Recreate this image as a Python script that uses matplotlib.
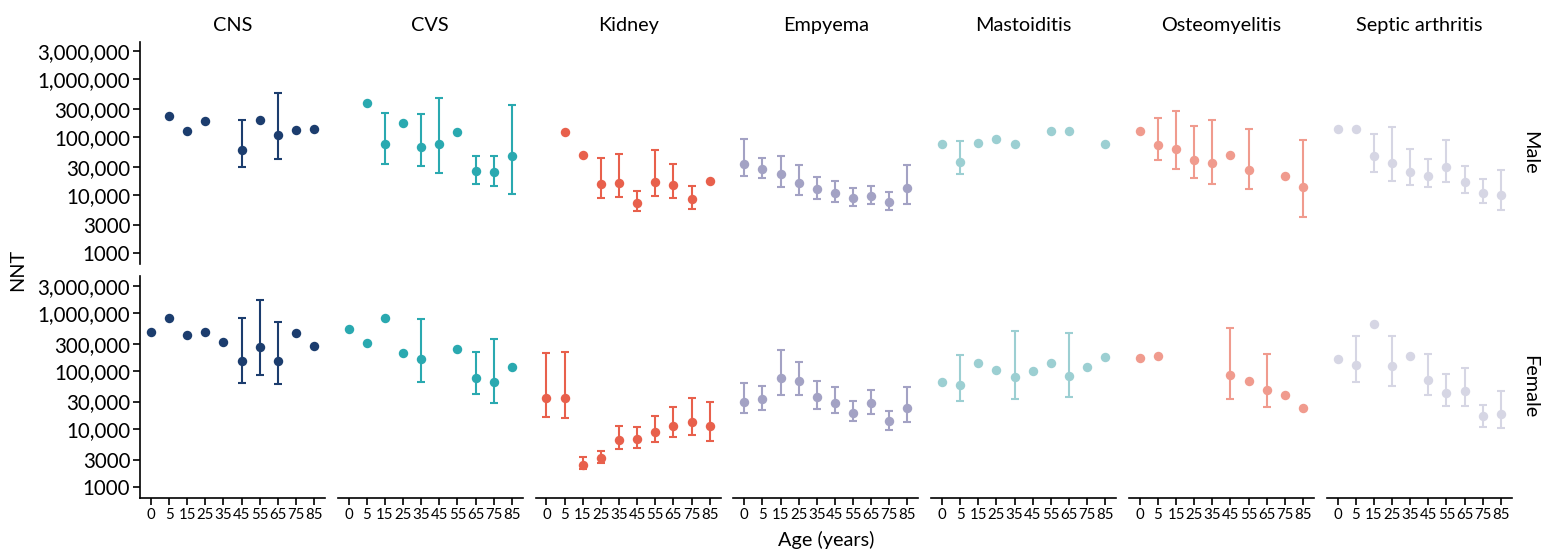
import matplotlib
matplotlib.use("Agg")
import matplotlib.pyplot as plt
import numpy as np

na = np.nan

ages = ["0", "5", "15", "25", "35", "45", "55", "65", "75", "85"]
conditions = ["CNS", "CVS", "Kidney", "Empyema", "Mastoiditis", "Osteomyelitis", "Septic arthritis"]
sexes = ["Male", "Female"]
colors = ["#1c3d6e", "#2aa9b0", "#e8604c", "#a3a2c4", "#9ccfd2", "#f09b8e", "#d6d6e4"]

# --- Male: NNT estimate, lower and upper interval
cns_male = [na, 230000, 128000, 188000, na, 60000, 196000, 108000, 131000, 135000]
cns_male_lo = [na, na, na, na, na, 30000, na, 40800, na, na]
cns_male_hi = [na, na, na, na, na, 193000, na, 573000, na, na]

cvs_male = [na, 390000, 76000, 171000, 67000, 76000, 121000, 25400, 24400, 47300]
cvs_male_lo = [na, na, 34000, na, 31000, 23400, na, 15300, 14000, 10200]
cvs_male_hi = [na, na, 259000, na, 249000, 475000, na, 47300, 47300, 360000]

kidney_male = [na, 121000, 49300, 15300, 16000, 7300, 17000, 14800, 8340, 17500]
kidney_male_lo = [na, na, na, 8670, 9160, 5250, 9380, 8810, 5690, na]
kidney_male_hi = [na, na, na, 42600, 49900, 11500, 58500, 34000, 14000, na]

empyema_male = [34000, 27900, 22500, 16000, 12600, 10900, 8900, 9640, 7510, 12900]
empyema_male_lo = [20800, 19200, 13600, 9770, 8340, 7510, 6310, 7010, 5530, 7010]
empyema_male_hi = [90600, 43800, 46000, 33100, 20500, 17500, 12900, 14500, 11000, 33100]

mastoid_male = [74200, 36800, 78500, 92000, 75300, na, 128000, 128000, na, 74200]
mastoid_male_lo = [na, 22900, na, na, na, na, na, na, na, na]
mastoid_male_hi = [na, 83600, na, na, na, na, na, na, na, na]

osteo_male = [128000, 73300, 62500, 39300, 35800, 47900, 26800, na, 21400, 13800]
osteo_male_lo = [na, 40300, 27900, 19200, 15600, na, 12700, na, na, 4190]
osteo_male_hi = [na, 212000, 284000, 156000, 196000, na, 137000, na, na, 89600]

septic_male = [137000, 137000, 47300, 34800, 25100, 21400, 29700, 17000, 10700, 9930]
septic_male_lo = [na, na, 24800, 17300, 14900, 13400, 16400, 10900, 7310, 5460]
septic_male_hi = [na, na, 113000, 146000, 61800, 40800, 87100, 31400, 18700, 26400]

# --- Female
cns_female = [470000, 830000, 428000, 482000, 316000, 152000, 262000, 149000, 463000, 276000]
cns_female_lo = [na, na, na, na, na, 62100, 86300, 59700, na, na]
cns_female_hi = [na, na, na, na, na, 840000, 1710000, 700000, na, na]

cvs_female = [542000, 304000, 820000, 209000, 161000, na, 245000, 77600, 65500, 120000]
cvs_female_lo = [na, na, na, na, 65500, na, na, 40100, 28100, na]
cvs_female_hi = [na, na, na, na, 788000, na, na, 218000, 360000, na]

kidney_female = [34200, 34200, 2420, 3160, 6620, 6810, 9100, 11500, 13200, 11300]
kidney_female_lo = [16500, 15800, 2070, 2590, 4570, 4700, 6040, 7360, 8070, 6210]
kidney_female_hi = [204000, 218000, 3330, 4230, 11500, 11100, 16700, 24500, 34600, 29200]

empyema_female = [29600, 32900, 77600, 68900, 35600, 28800, 19300, 28100, 14100, 23300]
empyema_female_lo = [18900, 21800, 39500, 38500, 22600, 18900, 13700, 18200, 9840, 13200]
empyema_female_hi = [62800, 55800, 233000, 145000, 68900, 54200, 30400, 47600, 20700, 54200]

mastoid_female = [65500, 58100, 139000, 105000, 79800, 102000, 139000, 83000, 119000, 174000]
mastoid_female_lo = [na, 31100, na, na, 33300, na, na, 36500, na, na]
mastoid_female_hi = [na, 189000, na, na, 495000, na, na, 457000, na, na]

osteo_female = [168000, 184000, na, na, na, 85300, 68900, 48200, 39000, 23500]
osteo_female_lo = [na, na, na, na, na, 33300, na, 24200, na, na]
osteo_female_hi = [na, na, na, na, na, 558000, na, 199000, na, na]

septic_female = [165000, 129000, 646000, 122000, 184000, 71600, 41800, 46300, 16700, 18600]
septic_female_lo = [na, 66200, na, 55100, na, 39000, 24900, 25500, 11100, 10700]
septic_female_hi = [na, 401000, na, 401000, na, 201000, 91000, 115000, 26200, 46300]

yticks = [1000, 3000, 10000, 30000, 100000, 300000, 1000000, 3000000]
ytick_labels = ["1000", "3000", "10,000", "30,000", "100,000", "300,000", "1,000,000", "3,000,000"]

male = [
    (cns_male, cns_male_lo, cns_male_hi),
    (cvs_male, cvs_male_lo, cvs_male_hi),
    (kidney_male, kidney_male_lo, kidney_male_hi),
    (empyema_male, empyema_male_lo, empyema_male_hi),
    (mastoid_male, mastoid_male_lo, mastoid_male_hi),
    (osteo_male, osteo_male_lo, osteo_male_hi),
    (septic_male, septic_male_lo, septic_male_hi),
]
female = [
    (cns_female, cns_female_lo, cns_female_hi),
    (cvs_female, cvs_female_lo, cvs_female_hi),
    (kidney_female, kidney_female_lo, kidney_female_hi),
    (empyema_female, empyema_female_lo, empyema_female_hi),
    (mastoid_female, mastoid_female_lo, mastoid_female_hi),
    (osteo_female, osteo_female_lo, osteo_female_hi),
    (septic_female, septic_female_lo, septic_female_hi),
]

plt.rcParams["font.family"] = ["Lato", "DejaVu Sans"]

W, H = 1542, 553
fig, axes = plt.subplots(2, 7, figsize=(W / 100, H / 100), dpi=100, sharey=True)
fig.subplots_adjust(left=140 / W, right=1511.7 / W, top=1 - 41.7 / H, bottom=1 - 498 / H,
                    wspace=0.069, hspace=0.056)

x = np.arange(len(ages))
for r, rows in enumerate([male, female]):
    for c, (v, lo, hi) in enumerate(rows):
        ax = axes[r, c]
        v = np.array(v, dtype=float)
        lo = np.array(lo, dtype=float)
        hi = np.array(hi, dtype=float)
        has = ~np.isnan(lo)
        ax.errorbar(x[has], v[has], yerr=[v[has] - lo[has], hi[has] - v[has]],
                    fmt="none", ecolor=colors[c], elinewidth=1.5, capsize=2.6, capthick=1.5)
        ax.plot(x, v, "o", color=colors[c], markersize=6.8, markeredgewidth=0)
        ax.set_yscale("log")
        ax.set_ylim(650, 4.4e6)
        ax.set_xlim(-0.6, 9.6)
        for s in ["top", "right"]:
            ax.spines[s].set_visible(False)
        ax.set_xticks(x)
        ax.set_xticklabels(ages)
        ax.tick_params(axis="x", labelsize=10.8, length=5, width=1.2, pad=2)
        ax.tick_params(axis="y", labelsize=14.8, length=5, width=1.2, pad=2, which="major")
        ax.tick_params(axis="y", which="minor", left=False)
        ax.spines["left"].set_linewidth(1.2)
        ax.spines["bottom"].set_linewidth(1.2)
        if c > 0:
            ax.spines["left"].set_visible(False)
            ax.tick_params(axis="y", left=False, labelleft=False)
        if r == 0:
            ax.spines["bottom"].set_visible(False)
            ax.tick_params(axis="x", bottom=False, labelbottom=False)
            ax.set_title(conditions[c], fontsize=14.3, pad=8)
        if c == 6:
            ax.annotate(sexes[r], xy=(1, 0.5), xycoords="axes fraction", xytext=(13, 0),
                        textcoords="offset points", rotation=270, ha="center", va="center",
                        fontsize=14.3)

axes[0, 0].set_yticks(yticks)
axes[0, 0].set_yticklabels(ytick_labels)
axes[0, 0].yaxis.set_minor_locator(matplotlib.ticker.NullLocator())

fig.text(18 / W, 1 - 270 / H, "NNT", rotation=90, ha="center", va="center", fontsize=14.3)
fig.text(826 / W, 1 - 540 / H, "Age (years)", ha="center", va="center", fontsize=14.3)

fig.savefig("out.png", dpi=100)
